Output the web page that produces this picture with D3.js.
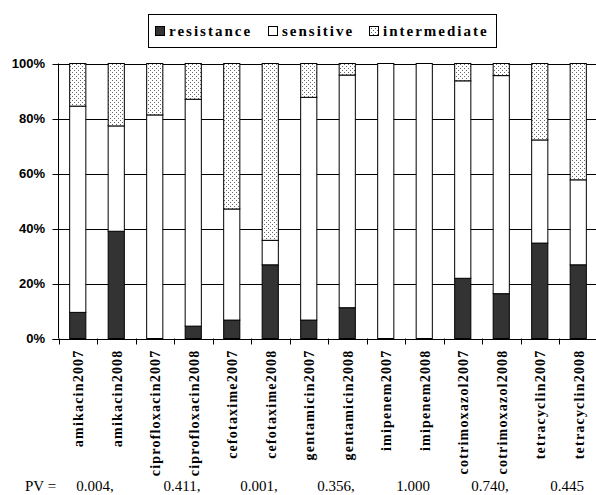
<!DOCTYPE html>
<html>
<head>
<meta charset="utf-8">
<script src="https://cdn.jsdelivr.net/npm/d3@7"></script>
<style>
  body { margin: 0; background: #fff; }
  svg { display: block; }
  .serif { font-family: "Liberation Serif", "Times New Roman", serif; }
  .sans { font-family: "Liberation Sans", Arial, sans-serif; }
</style>
</head>
<body>
<div id="chart"></div>
<script>
const categories = [
  "amikacin2007", "amikacin2008", "ciprofloxacin2007", "ciprofloxacin2008",
  "cefotaxime2007", "cefotaxime2008", "gentamicin2007", "gentamicin2008",
  "imipenem2007", "imipenem2008", "cotrimoxazol2007", "cotrimoxazol2008",
  "tetracyclin2007", "tetracyclin2008"
];
const resistance   = [9.5, 39, 0, 4.5, 6.7, 26.8, 6.7, 11.2, 0, 0, 21.9, 16.3, 34.7, 26.8];
const sensitive    = [75, 38.3, 81.3, 82.5, 40.4, 8.9, 81, 84.6, 100, 100, 71.8, 79.3, 37.5, 30.9];
const intermediate = [15.5, 22.7, 18.7, 13, 52.9, 64.3, 12.3, 4.2, 0, 0, 6.3, 4.4, 27.8, 42.3];
const seriesNames = ["resistance", "sensitive", "intermediate"];
const yTicks = [0, 20, 40, 60, 80, 100];
const pValues = ["0.004,", "0.411,", "0.001,", "0.356,", "1.000", "0.740,", "0.445"];

const width = 596, height = 495;
const margin = { top: 63.5, left: 58.5, bottom: 338.5, right: 597.5 };

const rows = categories.map((c, i) => ({
  cat: c,
  resistance: resistance[i],
  sensitive: sensitive[i],
  intermediate: intermediate[i],
}));

const stacked = d3.stack().keys(seriesNames)(rows);

const x = d3.scaleBand().domain(categories).range([margin.left, margin.right]).padding(0);
const barW = x.bandwidth() * 0.42;
const y = d3.scaleLinear().domain([0, 100]).range([margin.bottom, margin.top]);

const svg = d3.select("#chart").append("svg")
  .attr("width", width).attr("height", height);

const defs = svg.append("defs");
const pat = defs.append("pattern")
  .attr("id", "dots").attr("patternUnits", "userSpaceOnUse")
  .attr("width", 4).attr("height", 4);
pat.append("rect").attr("width", 4).attr("height", 4).attr("fill", "#fff");
pat.append("rect").attr("x", 0).attr("y", 0).attr("width", 1).attr("height", 1).attr("fill", "#666");
pat.append("rect").attr("x", 2).attr("y", 2).attr("width", 1).attr("height", 1).attr("fill", "#666");

const fills = { resistance: "#333333", sensitive: "#ffffff", intermediate: "url(#dots)" };

// gridlines
svg.append("g").selectAll("line")
  .data(yTicks.filter(d => d > 0))
  .join("line")
  .attr("x1", margin.left).attr("x2", width)
  .attr("y1", d => Math.round(y(d)) + 0.5).attr("y2", d => Math.round(y(d)) + 0.5)
  .attr("stroke", "#000").attr("stroke-width", 1);

// bars
svg.append("g").selectAll("g")
  .data(stacked)
  .join("g")
  .attr("fill", d => fills[d.key])
  .selectAll("rect")
  .data(d => d.filter(p => p[1] - p[0] > 0))
  .join("rect")
  .attr("x", d => x(d.data.cat) + (x.bandwidth() - barW) / 2)
  .attr("y", d => y(d[1]))
  .attr("width", barW)
  .attr("height", d => y(d[0]) - y(d[1]))
  .attr("stroke", "#000").attr("stroke-width", 1);

// y axis
const yAxis = svg.append("g");
yAxis.append("line")
  .attr("x1", margin.left).attr("x2", margin.left)
  .attr("y1", margin.top).attr("y2", margin.bottom)
  .attr("stroke", "#000");
yAxis.selectAll("line.tick")
  .data(yTicks)
  .join("line").attr("class", "tick")
  .attr("x1", margin.left - 6).attr("x2", margin.left)
  .attr("y1", d => Math.round(y(d)) + 0.5).attr("y2", d => Math.round(y(d)) + 0.5)
  .attr("stroke", "#000");
yAxis.selectAll("text")
  .data(yTicks)
  .join("text")
  .attr("class", "sans")
  .attr("x", 45).attr("y", d => y(d))
  .attr("dy", "0.36em")
  .attr("text-anchor", "end")
  .attr("font-weight", "bold").attr("font-size", 13)
  .text(d => d + "%");

// x axis
const xAxis = svg.append("g");
xAxis.append("line")
  .attr("x1", margin.left - 6).attr("x2", width)
  .attr("y1", Math.round(y(0)) + 0.5).attr("y2", Math.round(y(0)) + 0.5)
  .attr("stroke", "#000");
xAxis.selectAll("line.tick")
  .data(categories)
  .join("line").attr("class", "tick")
  .attr("x1", d => Math.round(x(d)) + 0.5).attr("x2", d => Math.round(x(d)) + 0.5)
  .attr("y1", y(0)).attr("y2", y(0) + 6)
  .attr("stroke", "#000");
xAxis.selectAll("text")
  .data(categories)
  .join("text")
  .attr("class", "serif")
  .attr("transform", d => `translate(${x(d) + x.bandwidth() / 2 + 0.5},${y(0) + 11}) rotate(-90)`)
  .attr("dy", "0.36em")
  .attr("text-anchor", "end")
  .attr("font-weight", "bold").attr("font-size", 14)
  .attr("letter-spacing", 1.2)
  .text(d => d);

// legend
const legend = svg.append("g");
legend.append("rect")
  .attr("x", 148.5).attr("y", 14.5).attr("width", 348).attr("height", 33)
  .attr("fill", "#fff").attr("stroke", "#000");
const legendX = [155, 268, 369];
const legendItems = legend.selectAll("g")
  .data(seriesNames)
  .join("g")
  .attr("transform", (d, i) => `translate(${legendX[i]},26)`);
legendItems.append("rect")
  .attr("x", 0.5).attr("y", 0.5).attr("width", 9).attr("height", 9)
  .attr("fill", d => fills[d]).attr("stroke", "#000");
legendItems.append("text")
  .attr("class", "serif")
  .attr("x", 14).attr("y", 10)
  .attr("font-weight", "bold").attr("font-size", 15)
  .attr("letter-spacing", 2.0)
  .text(d => d);

// p-values
const pv = svg.append("g")
  .attr("class", "serif")
  .attr("font-size", 15);
pv.append("text").attr("x", 25).attr("y", 491).text("PV =");
pv.selectAll("text.pv")
  .data(pValues)
  .join("text").attr("class", "pv serif")
  .attr("x", (d, i) => x(categories[2 * i]) + x.bandwidth() + 8 - (i === 0 ? 10 : 0))
  .attr("y", 491)
  .attr("text-anchor", "middle")
  .text(d => d);
</script>
</body>
</html>
